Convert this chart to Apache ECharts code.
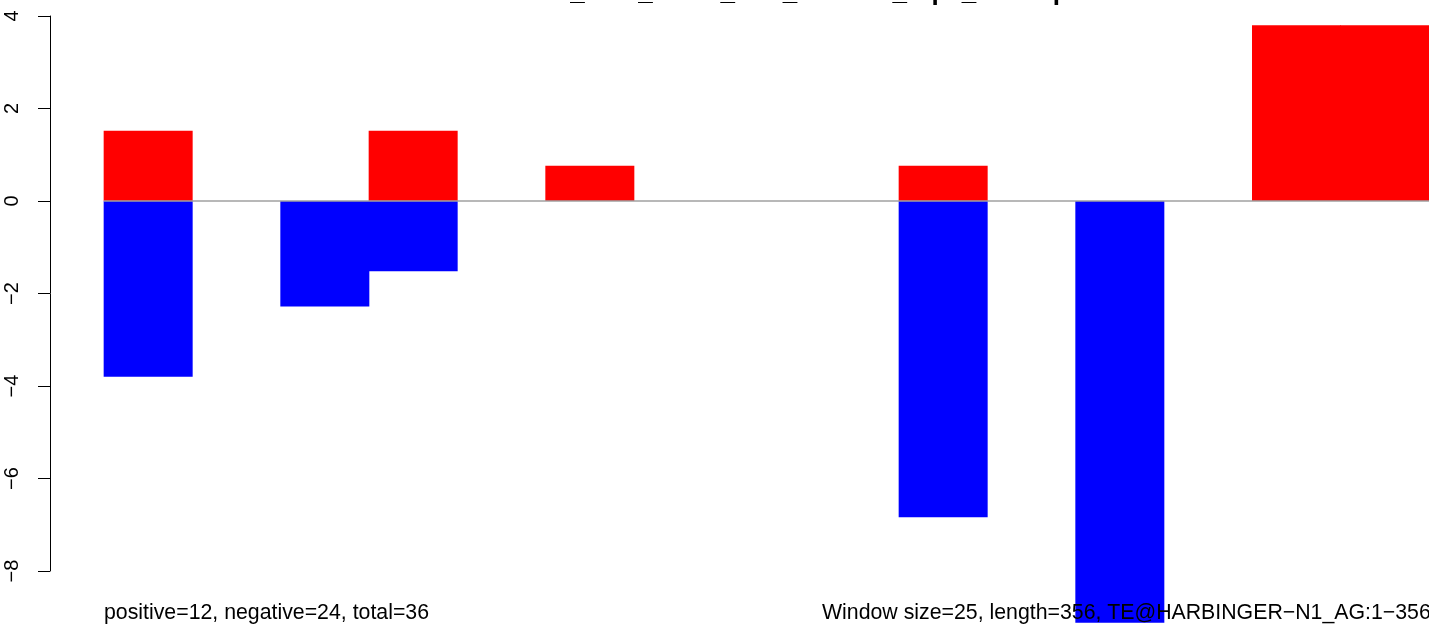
<!DOCTYPE html>
<html><head><meta charset="utf-8">
<script src="https://cdn.jsdelivr.net/npm/echarts@6/dist/echarts.min.js"></script>
<style>html,body{margin:0;padding:0;background:#fff}#c{width:1429px;height:627px}</style>
</head><body><div id="c"></div>
<script>
// window start positions (window size 25, length 356)
const windows = ['1','26','51','76','101','126','151','176','201','226','251','276','301','326','351'];
const positiveValues = [1.52, 0, 0, 1.52, 0, 0.76, 0, 0, 0, 0.76, 0, 0, 0, 3.8, 3.8];
const negativeValues = [-3.8, 0, -2.28, -1.52, 0, 0, 0, 0, 0, -6.84, 0, -9.12, 0, 0, 0];
const yMin = -8, yMax = 4, yStep = 2;
const titleText = 'TE_bins_mean_TEs_window_rep1_overlap';
const leftNote = 'positive=12, negative=24, total=36';
const rightNote = 'Window size=25, length=356, TE@HARBINGER\u2212N1_AG:1\u2212356';

const FONT = '"Liberation Sans", Arial, Helvetica, sans-serif';
const chart = echarts.init(document.getElementById('c'), null, {renderer: 'canvas'});
chart.setOption({
  animation: false,
  backgroundColor: '#ffffff',
  grid: {left: 104, width: 1329, top: 16, height: 555, containLabel: false},
  xAxis: {
    type: 'category', data: windows, boundaryGap: true, show: false
  },
  yAxis: {
    type: 'value', min: yMin, max: yMax, interval: yStep, offset: 54,
    axisLine: {show: true, lineStyle: {color: '#000', width: 1}},
    axisTick: {show: true, length: 12, lineStyle: {color: '#000', width: 1}},
    splitLine: {show: false},
    axisLabel: {
      rotate: 90, margin: 28, color: '#000', fontSize: 20, fontFamily: FONT,
      formatter: v => String(v).replace('-', '\u2212')
    }
  },
  series: [
    {
      name: 'negative', type: 'bar', data: negativeValues, clip: false,
      barWidth: 89, barGap: '-100%',
      itemStyle: {color: '#0000ff'}, z: 2
    },
    {
      name: 'positive', type: 'bar', data: positiveValues, clip: false,
      barWidth: 89, barGap: '-100%',
      itemStyle: {color: '#ff0000'}, z: 3,
      markLine: {
        silent: true, symbol: 'none', label: {show: false},
        lineStyle: {color: '#a0a0a0', width: 1.5, type: 'solid'},
        data: [{yAxis: 0}], z: 5
      }
    }
  ],
  graphic: [
    {type: 'text', x: 537, y: -7, z: 100, style: {text: titleText, font: 'bold 26px ' + FONT, fill: '#000', verticalAlign: 'middle', align: 'left'}},
    {type: 'text', x: 104, y: 613.5, z: 100, style: {text: leftNote, font: '21.3px ' + FONT, fill: '#000', verticalAlign: 'middle', align: 'left'}},
    {type: 'text', x: 822, y: 613.5, z: 100, style: {text: rightNote, font: '21.3px ' + FONT, fill: '#000', verticalAlign: 'middle', align: 'left'}}
  ]
});
</script></body></html>
